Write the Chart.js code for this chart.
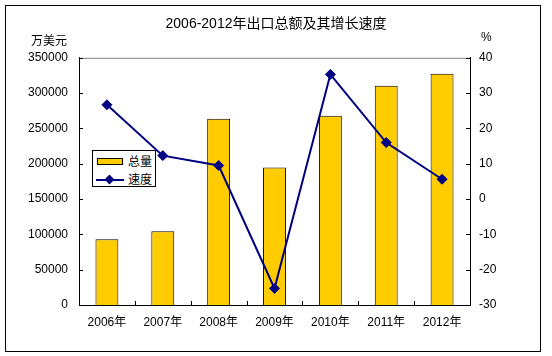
<!DOCTYPE html>
<html>
<head>
<meta charset="utf-8">
<script src="https://cdn.jsdelivr.net/npm/chart.js@4"></script>
<style>
html,body{margin:0;padding:0;background:#fff;}
#wrap{position:relative;width:552px;height:356px;overflow:hidden;font-family:'Liberation Sans','Noto Sans CJK SC',sans-serif;color:#000;}
#frame{position:absolute;left:5px;top:5px;width:536px;height:347px;box-sizing:border-box;border:1px solid #000;}
#c{position:absolute;left:0;top:0;}
.unit{position:absolute;font-size:12px;line-height:14px;white-space:nowrap;}
#legend{position:absolute;left:92px;top:150px;width:64px;height:37px;box-sizing:border-box;border:1px solid #000;background:#fff;font-size:12px;}
#legend .sw{position:absolute;left:4px;top:7px;width:26px;height:7px;box-sizing:border-box;border:1px solid #000;background:#FFCC00;}
#legend .ln{position:absolute;left:3px;top:28px;width:28px;height:2px;background:#000080;}
#legend .dm{position:absolute;left:13px;top:25px;width:7px;height:7px;background:#000080;transform:rotate(45deg);}
#legend .t{position:absolute;left:35px;line-height:14px;}
</style>
</head>
<body>
<div id="wrap">
<div id="frame"></div>
<canvas id="c" width="552" height="356"></canvas>
<div class="unit" style="left:31px;top:34px;">万美元</div>
<div class="unit" style="left:481px;top:30px;">%</div>
<div id="legend">
  <div class="sw"></div><div class="t" style="top:4px;">总量</div>
  <div class="ln"></div><div class="dm"></div><div class="t" style="top:22px;">速度</div>
</div>
</div>
<script>
const titleText = '2006-2012年出口总额及其增长速度';
const categories = ['2006年','2007年','2008年','2009年','2010年','2011年','2012年'];
const totalValues = [93100, 104400, 263600, 194600, 267800, 310300, 327300];
const growthValues = [26.7, 12.3, 9.5, -25.3, 35.3, 16.0, 5.6];
const leftAxisMin = 0, leftAxisMax = 350000, leftAxisStep = 50000;
const rightAxisMin = -30, rightAxisMax = 40, rightAxisStep = 10;
const seriesNames = ['总量','速度'];

const FONT = "'Liberation Sans','Noto Sans CJK SC',sans-serif";

const frameTicks = {
  id: 'frameTicks',
  afterDraw(chart) {
    const ctx = chart.ctx, a = chart.chartArea;
    ctx.save();
    ctx.lineWidth = 1;
    ctx.strokeStyle = '#808080';
    ctx.beginPath();
    ctx.moveTo(a.left, a.top + 0.5);
    ctx.lineTo(a.right, a.top + 0.5);
    ctx.stroke();
    ctx.strokeStyle = '#000';
    ctx.beginPath();
    const yl = chart.scales.y, yr = chart.scales.y1, x = chart.scales.x;
    yl.ticks.forEach(t => {
      const p = Math.round(yl.getPixelForValue(t.value)) + 0.5;
      ctx.moveTo(a.left, p); ctx.lineTo(a.left + 4, p);
    });
    yr.ticks.forEach(t => {
      const p = Math.round(yr.getPixelForValue(t.value)) + 0.5;
      ctx.moveTo(a.right - 4, p); ctx.lineTo(a.right, p);
    });
    for (let i = 0; i < categories.length - 1; i++) {
      const p = Math.round((x.getPixelForValue(i) + x.getPixelForValue(i + 1)) / 2) + 0.5;
      ctx.moveTo(p, a.bottom); ctx.lineTo(p, a.bottom - 4);
    }
    ctx.stroke();
    ctx.restore();
  }
};

new Chart(document.getElementById('c'), {
  data: {
    labels: categories,
    datasets: [
      {
        type: 'line', label: seriesNames[1], data: growthValues, yAxisID: 'y1', order: 0,
        borderColor: '#000080', backgroundColor: '#000080', borderWidth: 2,
        pointStyle: 'rectRot', pointRadius: 5, pointBorderWidth: 1, tension: 0
      },
      {
        type: 'bar', label: seriesNames[0], data: totalValues, yAxisID: 'y', order: 1,
        backgroundColor: '#FFCC00', borderColor: '#000', borderWidth: 1,
        categoryPercentage: 1, barPercentage: 0.41
      }
    ]
  },
  options: {
    responsive: false,
    animation: false,
    devicePixelRatio: 1,
    layout: { padding: 0 },
    plugins: {
      legend: { display: false },
      tooltip: { enabled: false },
      title: {
        display: true, text: titleText, color: '#000',
        font: { family: FONT, size: 14, weight: 'normal' },
        padding: { top: 16, bottom: 25 }
      }
    },
    scales: {
      x: {
        offset: true,
        grid: { display: false, drawTicks: false },
        border: { display: true, color: '#000', width: 1 },
        ticks: { color: '#000', font: { family: FONT, size: 12 }, padding: 10, maxRotation: 0 },
        afterFit(s) { s.height = 51; }
      },
      y: {
        position: 'left', min: leftAxisMin, max: leftAxisMax,
        grid: { display: false, drawTicks: false },
        border: { display: true, color: '#000', width: 1 },
        ticks: { stepSize: leftAxisStep, color: '#000', font: { family: FONT, size: 12 }, padding: 11, callback: v => String(v) },
        afterFit(s) { s.width = 79; }
      },
      y1: {
        position: 'right', min: rightAxisMin, max: rightAxisMax,
        grid: { display: false, drawTicks: false },
        border: { display: true, color: '#000', width: 1 },
        ticks: { stepSize: rightAxisStep, color: '#000', font: { family: FONT, size: 12 }, padding: 9, callback: v => String(v) },
        afterFit(s) { s.width = 82; }
      }
    }
  },
  plugins: [frameTicks]
});
</script>
</body>
</html>
